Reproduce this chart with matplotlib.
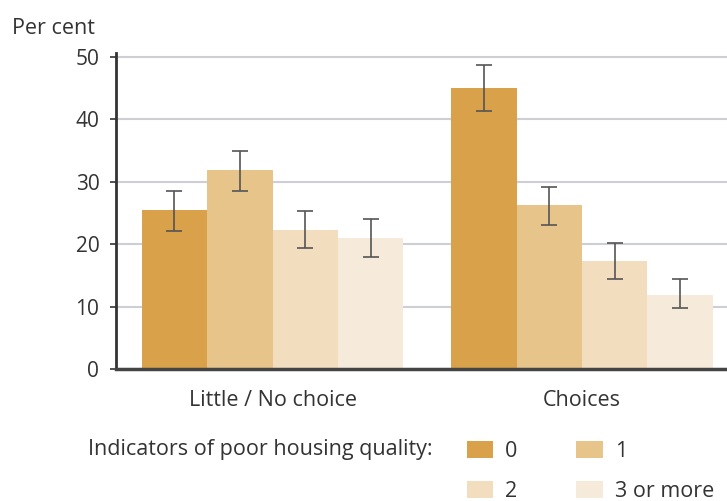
import matplotlib
matplotlib.use("Agg")
import matplotlib.pyplot as plt
from matplotlib.patches import Patch
import numpy as np

plt.rcParams['font.family'] = ['Open Sans', 'DejaVu Sans']

categories = ["Little / No choice", "Choices"]
series_labels = ["0", "1", "2", "3 or more"]
values = {
    "0": [25.4, 45.0],
    "1": [31.8, 26.2],
    "2": [22.3, 17.3],
    "3 or more": [21.0, 11.9],
}
err_low = {
    "0": [22.1, 41.3],
    "1": [28.5, 23.1],
    "2": [19.4, 14.4],
    "3 or more": [18.0, 9.7],
}
err_high = {
    "0": [28.5, 48.7],
    "1": [34.9, 29.1],
    "2": [25.3, 20.2],
    "3 or more": [24.0, 14.4],
}
yticks = [0, 10, 20, 30, 40, 50]
colors = ["#D9A24A", "#E7C48A", "#F2DDBE", "#F6EBDA"]
text_color = "#333333"
fs = 15.5

fig = plt.figure(figsize=(7.27, 5.01), dpi=100)
ax = fig.add_axes([116/727, 1-369/501, 1-116/727, (369-53)/501])

x = np.arange(len(categories))
w = 0.2116
for i, s in enumerate(series_labels):
    pos = x + (i - 1.5) * w
    v = np.array(values[s])
    lo = v - np.array(err_low[s])
    hi = np.array(err_high[s]) - v
    ax.bar(pos, v, width=w, color=colors[i], edgecolor='none', zorder=2)
    ax.errorbar(pos, v, yerr=[lo, hi], fmt='none', ecolor="#555555",
                elinewidth=1.2, capsize=6, capthick=1.2, zorder=3)

ax.set_xlim(-0.5057, 1.4685)
ax.set_ylim(0, 50.6)
ax.set_yticks(yticks)
ax.set_yticklabels([str(t) for t in yticks])
ax.set_xticks(x)
ax.set_xticklabels(categories)
ax.yaxis.grid(True, color="#CDCFD4", linewidth=1.5, zorder=0)
ax.set_axisbelow(True)
for sp in ["top", "right"]:
    ax.spines[sp].set_visible(False)
ax.spines["left"].set_color("#333333")
ax.spines["left"].set_linewidth(2)
ax.spines["bottom"].set_color("#444444")
ax.spines["bottom"].set_linewidth(2.5)
ax.tick_params(axis='y', length=4, width=1.2, color="#333333", labelsize=15,
               labelcolor=text_color, pad=8)
ax.tick_params(axis='x', length=0, labelsize=fs, labelcolor=text_color, pad=15)

fig.text(12/727, 1-28/501, "Per cent", fontsize=fs, color=text_color,
         ha='left', va='center')
fig.text(88/727, 1-450/501, "Indicators of poor housing quality:", fontsize=fs,
         color=text_color, ha='left', va='center')

handles = [Patch(facecolor=c, edgecolor='none') for c in colors]
order = [0, 2, 1, 3]
leg = fig.legend([handles[i] for i in order], [series_labels[i] for i in order],
                 ncol=2, loc='upper left',
                 bbox_to_anchor=(467/727, 1-441/501), frameon=False,
                 fontsize=fs, handlelength=1.21, handleheight=0.84,
                 handletextpad=0.56, columnspacing=2.74, labelspacing=0.86,
                 borderpad=0, borderaxespad=0)
for t in leg.get_texts():
    t.set_color(text_color)

fig.savefig("out.png", dpi=100)
